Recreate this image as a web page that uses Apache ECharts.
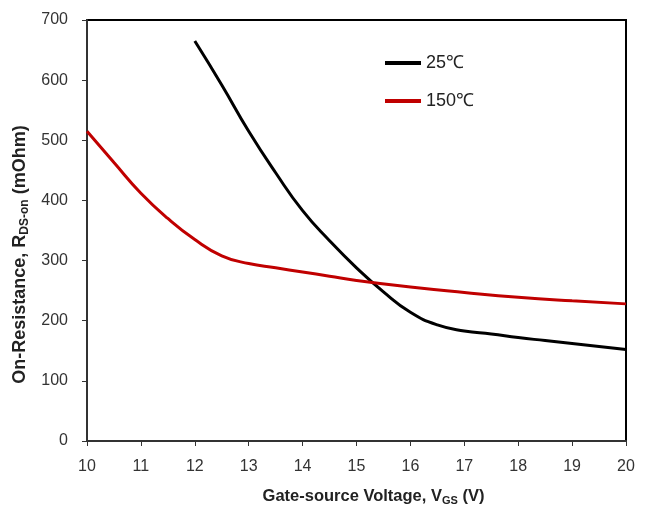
<!DOCTYPE html>
<html>
<head>
  <meta charset="utf-8">
  <script src="https://cdn.jsdelivr.net/npm/echarts@6/dist/echarts.min.js"></script>
  <style>
    body { margin: 0; background: #fff; }
    #chart { width: 645px; height: 511px; }
  </style>
</head>
<body>
  <div id="chart"></div>
  <script>
    // 曲线数据 [Vgs, Rds]
    var vgs25 = [12, 12.5, 13, 13.5, 14, 14.5, 15, 15.5, 16, 16.5, 17, 17.5, 18, 18.5, 19, 19.5, 20];
    var rds25 = [665, 592, 515, 446, 383, 333, 288, 248, 214, 193, 183, 178, 172, 167, 162, 157, 152];
    var vgs150 = [10, 10.5, 11, 11.5, 12, 12.5, 13, 13.5, 14, 14.5, 15, 16, 17, 18, 19, 20];
    var rds150 = [515, 463, 412, 370, 335, 308, 295, 288, 281, 274, 267, 256, 247, 239, 233, 228];
    var seriesNames = ['25℃', '150℃'];

    function pairs(xs, ys) {
      return xs.map(function (x, i) { return [x, ys[i]]; });
    }

    var chart = echarts.init(document.getElementById('chart'));
    var labelFont = { fontFamily: 'Liberation Sans, Arial', fontSize: 16, color: '#333' };
    var titleRich = {
      b: { fontFamily: 'Liberation Sans, Arial', fontWeight: 'bold', fontSize: 16.5, color: '#222' },
      s: { fontFamily: 'Liberation Sans, Arial', fontWeight: 'bold', fontSize: 11, color: '#222', padding: [8, 0, 0, 0] }
    };
    var titleRichY = {
      b: { fontFamily: 'Liberation Sans, Arial', fontWeight: 'bold', fontSize: 18, color: '#222' },
      s: { fontFamily: 'Liberation Sans, Arial', fontWeight: 'bold', fontSize: 12, color: '#222', padding: [9, 0, 0, 0] }
    };

    var option = {
      animation: false,
      grid: {
        left: 87, top: 20, right: 19, bottom: 69,
        show: true, borderColor: '#000', borderWidth: 2, backgroundColor: '#fff'
      },
      legend: {
        orient: 'vertical',
        left: 380, top: 49,
        itemWidth: 36, itemHeight: 4, itemGap: 20,
        icon: 'rect',
        data: seriesNames,
        textStyle: { fontFamily: 'Liberation Sans, Arial', fontSize: 18, color: '#222', padding: [5, 0, 0, 0] }
      },
      xAxis: {
        type: 'value', min: 10, max: 20, interval: 1,
        splitLine: { show: false },
        axisLine: { lineStyle: { color: '#333', width: 2 } },
        axisTick: { length: 5, lineStyle: { color: '#333' } },
        axisLabel: Object.assign({ margin: 18 }, labelFont),
        name: '{b|Gate-source Voltage, V}{s|GS}{b| (V)}',
        nameLocation: 'middle', nameGap: 46,
        nameTextStyle: { padding: [0, 0, 0, 34], rich: titleRich }
      },
      yAxis: {
        type: 'value', min: 0, max: 700, interval: 100,
        splitLine: { show: false },
        axisLine: { show: true, lineStyle: { color: '#333', width: 2 } },
        axisTick: { show: true, length: 5, lineStyle: { color: '#333' } },
        axisLabel: Object.assign({ margin: 19 }, labelFont),
        name: '{b|On-Resistance, R}{s|DS-on}{b| (mOhm)}',
        nameLocation: 'middle', nameGap: 56,
        nameTextStyle: { padding: [0, 48, 0, 0], rich: titleRichY }
      },
      series: [
        {
          name: seriesNames[0], type: 'line', smooth: 0.5, showSymbol: false,
          data: pairs(vgs25, rds25),
          color: '#000',
          lineStyle: { color: '#000', width: 3 }
        },
        {
          name: seriesNames[1], type: 'line', smooth: 0.5, showSymbol: false,
          data: pairs(vgs150, rds150),
          color: '#c00000',
          lineStyle: { color: '#c00000', width: 3 }
        }
      ]
    };

    chart.setOption(option);
  </script>
</body>
</html>
